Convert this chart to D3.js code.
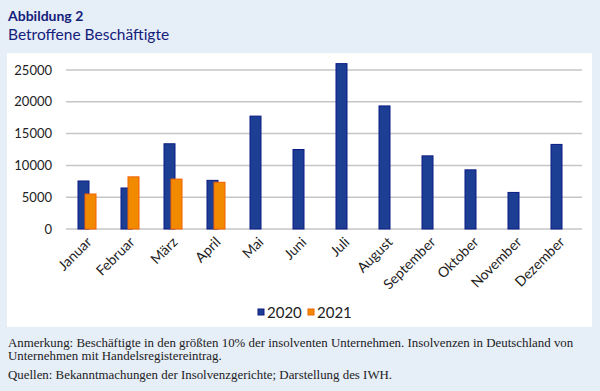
<!DOCTYPE html>
<meta charset="utf-8">
<style>
body { margin: 0; background: #e6eef8; }
svg { display: block; }
.axis path, .axis line { display: none; }
.grid line { stroke: #c6c6c6; stroke-width: 1.5px; }
</style>
<svg width="600" height="391"></svg>
<script src="https://d3js.org/d3.v7.min.js"></script>
<script>

var months = ["Januar", "Februar", "März", "April", "Mai", "Juni", "Juli", "August", "September", "Oktober", "November", "Dezember"];
var v2020 = [7550, 6450, 13400, 7650, 17750, 12500, 26000, 19350, 11500, 9300, 5750, 13300];
var v2021 = [5500, 8200, 7850, 7350, null, null, null, null, null, null, null, null];
var yTicks = [0, 5000, 10000, 15000, 20000, 25000];

var svg = d3.select("svg");

// heading
svg.append("text").attr("x", 8).attr("y", 21)
    .style("font", "bold 14px Lato").attr("fill", "#14207a").text("Abbildung 2");
svg.append("text").attr("x", 8).attr("y", 40)
    .style("font", "15.5px Lato").attr("fill", "#14207a").text("Betroffene Beschäftigte");

// white panel
svg.append("rect").attr("x", 7).attr("y", 53).attr("width", 585).attr("height", 274).attr("fill", "#fff");

var x = d3.scaleBand().domain(months).range([66, 582]);
var y = d3.scaleLinear().domain([0, 25000]).range([229, 70]);

svg.append("g").attr("class", "grid")
  .selectAll("line").data(yTicks).enter().append("line")
    .attr("x1", 66).attr("x2", 582)
    .attr("y1", function(d) { return y(d); }).attr("y2", function(d) { return y(d); });

svg.append("g").attr("class", "axis")
    .attr("transform", "translate(56,0)")
    .call(d3.axisLeft(y).tickValues(yTicks).tickSize(0).tickPadding(4).tickFormat(d3.format("d")))
    .selectAll("text").style("font", "13px Lato").attr("fill", "#222");

var bw = 11;
svg.append("g").selectAll("rect").data(months).enter().append("rect")
    .attr("x", function(d) { return x(d) + x.bandwidth() / 2 - 9.5; })
    .attr("y", function(d, i) { return y(v2020[i]); })
    .attr("width", bw)
    .attr("height", function(d, i) { return y(0) - y(v2020[i]); })
    .attr("fill", "#1d3f93").attr("stroke", "#0c1a86").attr("stroke-width", 1);

svg.append("g").selectAll("rect").data(months.filter(function(d, i) { return v2021[i] != null; })).enter().append("rect")
    .attr("x", function(d) { return x(d) + x.bandwidth() / 2 - 2.5; })
    .attr("y", function(d, i) { return y(v2021[i]); })
    .attr("width", bw)
    .attr("height", function(d, i) { return y(0) - y(v2021[i]); })
    .attr("fill", "#f28a00").attr("stroke", "#f26000").attr("stroke-width", 1);

// x labels
svg.append("g").selectAll("text").data(months).enter().append("text")
    .attr("transform", function(d) { return "translate(" + (x(d) + x.bandwidth() / 2 + 5) + ",243) rotate(-45)"; })
    .attr("text-anchor", "end")
    .style("font", "14px Lato").attr("fill", "#222")
    .text(function(d) { return d; });

// legend
var legend = [["2020", "#1d3f93", "#0c1a86"], ["2021", "#f28a00", "#f26000"]];
var lg = svg.append("g").selectAll("g").data(legend).enter().append("g")
    .attr("transform", function(d, i) { return "translate(" + (258 + i * 50) + ",0)"; });
lg.append("rect").attr("x", 0).attr("y", 309).attr("width", 6).attr("height", 6)
    .attr("fill", function(d) { return d[1]; }).attr("stroke", function(d) { return d[2]; });
lg.append("text").attr("x", 9).attr("y", 318).style("font", "15px Lato").attr("fill", "#222")
    .text(function(d) { return d[0]; });

// notes
var notes = [
  "Anmerkung: Beschäftigte in den größten 10% der insolventen Unternehmen. Insolvenzen in Deutschland von",
  "Unternehmen mit Handelsregistereintrag.",
  "Quellen: Bekanntmachungen der Insolvenzgerichte; Darstellung des IWH."
];
var noteY = [347, 360, 379];
svg.append("g").selectAll("text").data(notes).enter().append("text")
    .attr("x", 8).attr("y", function(d, i) { return noteY[i]; })
    .style("font", "12.9px 'Liberation Serif'").attr("fill", "#222")
    .text(function(d) { return d; });

</script>
